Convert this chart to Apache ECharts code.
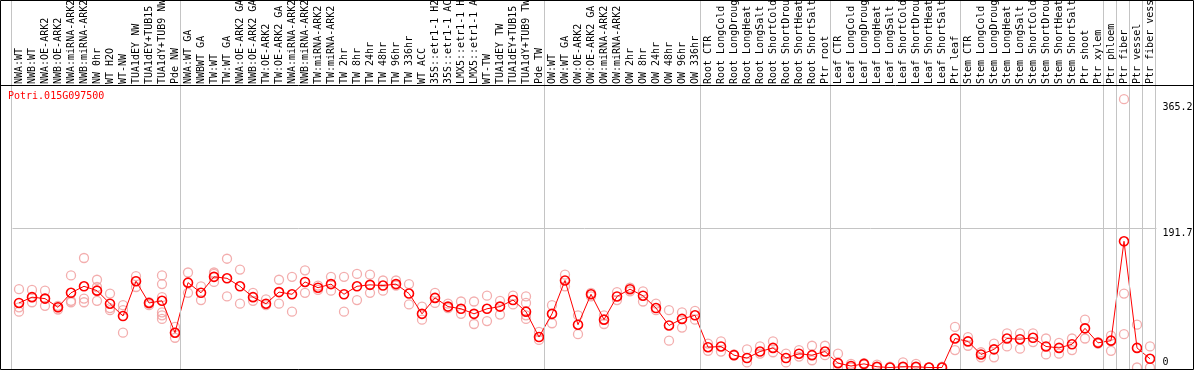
<!DOCTYPE html>
<html><head><meta charset="utf-8">
<script src="https://cdn.jsdelivr.net/npm/echarts@6/dist/echarts.min.js"></script>
<style>html,body{margin:0;padding:0;background:#fff}#c{width:1194px;height:370px}</style>
</head><body><div id="c"></div>
<script>
const geneId = 'Potri.015G097500';
const categories = [
 'NWA:WT','NWB:WT','NWA:OE-ARK2','NWB:OE-ARK2','NWA:miRNA-ARK2','NWB:miRNA-ARK2','NW 0hr','WT H2O','WT-NW','TUA1dEY NW','TUA1dEY+TUB15 NW','TUA1dY+TUB9 NW','Pde NW',
 'NWA:WT GA','NWBWT GA','TW:WT','TW:WT GA','NWA:OE-ARK2 GA','NWB:OE-ARK2 GA','TW:OE-ARK2','TW:OE-ARK2 GA','NWA:miRNA-ARK2 GA','NWB:miRNA-ARK2 GA','TW:miRNA-ARK2','TW:miRNA-ARK2 GA','TW 2hr','TW 8hr','TW 24hr','TW 48hr','TW 96hr','TW 336hr','WT ACC','35S::etr1-1 H2O','35S::etr1-1 ACC','LMX5::etr1-1 H2O','LMX5::etr1-1 ACC','WT-TW','TUA1dEY TW','TUA1dEY+TUB15 TW','TUA1dY+TUB9 TW','Pde TW',
 'OW:WT','OW:WT GA','OW:OE-ARK2','OW:OE-ARK2 GA','OW:miRNA-ARK2','OW:miRNA-ARK2 GA','OW 2hr','OW 8hr','OW 24hr','OW 48hr','OW 96hr','OW 336hr',
 'Root CTR','Root LongCold','Root LongDrought','Root LongHeat','Root LongSalt','Root ShortCold','Root ShortDrought','Root ShortHeat','Root ShortSalt','Ptr root',
 'Leaf CTR','Leaf LongCold','Leaf LongDrought','Leaf LongHeat','Leaf LongSalt','Leaf ShortCold','Leaf ShortDrought','Leaf ShortHeat','Leaf ShortSalt','Ptr leaf',
 'Stem CTR','Stem LongCold','Stem LongDrought','Stem LongHeat','Stem LongSalt','Stem ShortCold','Stem ShortDrought','Stem ShortHeat','Stem ShortSalt','Ptr shoot','Ptr xylem',
 'Ptr phloem','Ptr fiber','Ptr vessel','Ptr fiber vessel'
];
const groupSizes = [13,28,12,10,10,11,1,1,1,1];
const means = [
 89,97,95,83,103,112,106,88,71,119,89,92,48,
 117,103,125,123,112,97,88,104,101,118,110,115,101,112,114,113,115,102,74,96,84,81,74,81,84,93,77,42,
 74,120,59,101,66,98,108,99,82,58,67,72,
 28,29,17,13,22,27,13,19,17,22,
 6,2,5,1,0,1,1,0,0,40,
 36,18,25,40,39,41,29,27,32,54,34,
 37,174,27,12
];
const replicates = [
 [108,83,77],[107,97,90],[106,95,85],[80,83,85],[127,92,90],[151,95,90],[121,111,92],[102,82,79],[86,79,48],[126,119,111],[90,88,86],[127,115,97,76,72,67],[56,48,41],
 [131,103],[112,93],[131,129,118],[150,98],[135,88],[103,92],[94,86],[121,88],[125,77],[134,103],[113,107],[125,106],[125,77],[129,93],[128,103],[120,106],[120,113],[115,87],[84,66],[103,89],[88,82],[91,74],[91,60],[99,64],[92,73],[99,87],[98,89,72,67],[49,38],
 [86,61],[128,112],[72,46],[98,103],[72,60],[104,93],[110,105],[105,91],[88,79],[79,37],[76,55],[78,66],
 [33,23],[36,22],[17,18],[25,7],[29,19],[36,21],[19,7],[24,15],[30,10],[30,17],
 [19,0],[5,0],[6,4],[4,0],[0,1],[7,0],[5,0],[0,0],[1,0],[56,24],
 [42,30],[21,14],[33,14],[47,29],[47,26],[47,35],[40,18],[34,19],[40,24],[66,40],[35,33],
 [44,23],[370,102,46],[59,0],[29,0]
];
const yTickUpper = [191.7, 365.2];
const yTickZero = [0];
const yMax = 387.5;

const boundaries = [0];
groupSizes.forEach(s => boundaries.push(boundaries[boundaries.length-1] + s));
const repData = [];
replicates.forEach((arr, i) => arr.forEach(v => repData.push([i, v])));

const mono = 'DejaVu Sans Mono';
const chart = echarts.init(document.getElementById('c'), null, {renderer:'canvas'});
chart.setOption({
  animation: false,
  backgroundColor: '#fff',
  title: {text: geneId, left: 8, top: 91, padding: 0,
    textStyle: {color: '#ff0000', fontFamily: mono, fontSize: 10, fontWeight: 'normal'}},
  grid: [
    {left: 12.5, right: 37.5, top: 86.5, bottom: 2.5, containLabel: false, outerBoundsMode: 'none'},
    {left: 11.5, right: 38.5, top: 0, bottom: 1, containLabel: false, outerBoundsMode: 'none'}
  ],
  xAxis: [
    {type: 'category', gridIndex: 0, data: categories, position: 'top', boundaryGap: true,
     axisLine: {show: false}, axisTick: {show: false}, splitLine: {show: false},
     axisLabel: {interval: 0, rotate: 90, margin: 2.5, color: '#000', fontFamily: mono, fontSize: 10, hideOverlap: false}},
    {type: 'value', gridIndex: 1, min: 0, max: categories.length, show: false},
    {type: 'value', gridIndex: 0, min: 0, max: 1, show: false}
  ],
  yAxis: [
    {type: 'value', gridIndex: 0, position: 'right', min: 0, max: yMax,
     axisLine: {show: false}, axisTick: {show: false}, splitLine: {show: false},
     axisLabel: {customValues: yTickUpper, verticalAlign: 'top', margin: 6, color: '#000', fontFamily: mono, fontSize: 10}},
    {type: 'value', gridIndex: 0, position: 'right', min: 0, max: yMax,
     axisLine: {show: false}, axisTick: {show: false}, splitLine: {show: false},
     axisLabel: {customValues: yTickZero, verticalAlign: 'bottom', margin: 6, color: '#000', fontFamily: mono, fontSize: 10}},
    {type: 'value', gridIndex: 1, min: 0, max: 1, show: false}
  ],
  series: [
    {type: 'scatter', xAxisIndex: 1, yAxisIndex: 2, data: [[0, 0]], symbolSize: 0, silent: true, z: 1,
     markLine: {silent: true, symbol: 'none', label: {show: false},
       lineStyle: {color: '#c4c4c4', width: 1, type: 'solid'},
       data: boundaries.map(b => ({xAxis: b}))}},
    {type: 'scatter', xAxisIndex: 2, yAxisIndex: 0, data: [[0, 0]], symbolSize: 0, silent: true, z: 1,
     markLine: {silent: true, symbol: 'none', label: {show: false},
       lineStyle: {color: '#c4c4c4', width: 1, type: 'solid'},
       data: [[{coord: [0, yTickUpper[0]]}, {coord: [1, yTickUpper[0]]}]]}},
    {type: 'scatter', xAxisIndex: 0, yAxisIndex: 0, data: repData, symbol: 'circle', symbolSize: 9, z: 3,
     itemStyle: {color: 'rgba(0,0,0,0)', borderColor: '#f09a9a', borderWidth: 1.3}},
    {type: 'line', xAxisIndex: 0, yAxisIndex: 0, data: means, symbol: 'circle', symbolSize: 9, z: 4,
     lineStyle: {color: '#ff0000', width: 1},
     itemStyle: {color: 'rgba(0,0,0,0)', borderColor: '#ff0000', borderWidth: 1.6}}
  ],
  graphic: [
    {type: 'rect', shape: {x: 0.5, y: 0.5, width: 1193, height: 369}, style: {fill: null, stroke: '#000', lineWidth: 1}, z: 100},
    {type: 'line', shape: {x1: 0, y1: 85.5, x2: 1194, y2: 85.5}, style: {stroke: '#000', lineWidth: 1}, z: 100}
  ]
});
</script></body></html>
